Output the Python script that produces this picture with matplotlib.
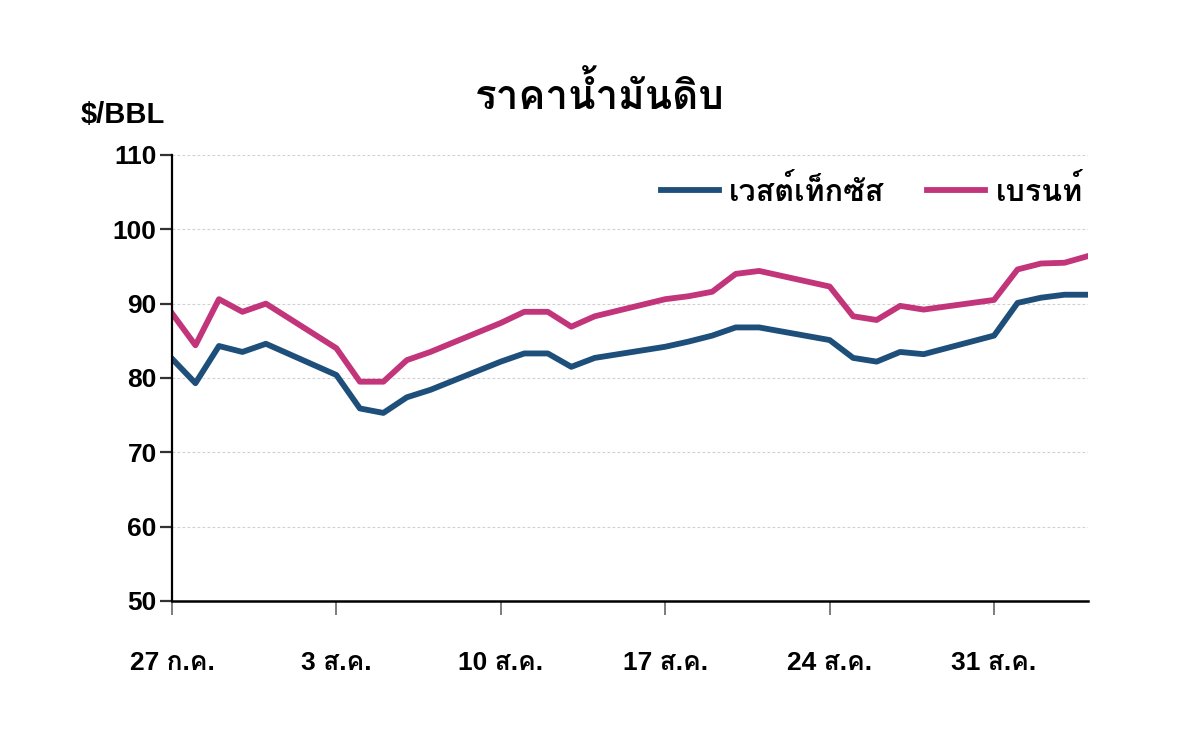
import matplotlib
matplotlib.use("Agg")
import matplotlib.pyplot as plt
from matplotlib import font_manager
from fontTools.ttLib import TTFont

# days counted from 27 Jul (weekdays only, weekends joined by straight lines)
days = [0, 1, 2, 3, 4,
        7, 8, 9, 10, 11,
        14, 15, 16, 17, 18,
        21, 22, 23, 24, 25,
        28, 29, 30, 31, 32,
        35, 36, 37, 38, 39]
wti = [82.6, 79.3, 84.3, 83.5, 84.6,
       80.4, 75.9, 75.3, 77.4, 78.4,
       82.2, 83.3, 83.3, 81.5, 82.7,
       84.2, 84.9, 85.7, 86.8, 86.8,
       85.1, 82.7, 82.2, 83.5, 83.2,
       85.7, 90.1, 90.8, 91.2, 91.2]
brent = [88.7, 84.4, 90.6, 88.9, 90.0,
         84.0, 79.5, 79.5, 82.4, 83.5,
         87.4, 88.9, 88.9, 86.9, 88.3,
         90.6, 91.0, 91.6, 94.0, 94.4,
         92.3, 88.3, 87.8, 89.7, 89.2,
         90.5, 94.6, 95.4, 95.5, 96.4]
tick_days = [0, 7, 14, 21, 28, 35]
tick_labels = ["27 ก.ค.", "3 ส.ค.", "10 ส.ค.", "17 ส.ค.", "24 ส.ค.", "31 ส.ค."]
series_names = ["เวสต์เท็กซัส", "เบรนท์"]


def find_thai_font():
    for f in font_manager.fontManager.ttflist:
        try:
            font = TTFont(f.fname, fontNumber=0, lazy=True)
            cmap = font.getBestCmap()
        except Exception:
            continue
        if cmap and 0x0E23 in cmap and 0x0E19 in cmap:
            return f.name
    return "DejaVu Sans"


thai = find_thai_font()
names = {f.name for f in font_manager.fontManager.ttflist}
num_font = "Liberation Sans Narrow" if "Liberation Sans Narrow" in names else "Liberation Sans"
fam = [num_font, thai, "DejaVu Sans"]
plt.rcParams["font.family"] = fam

fig = plt.figure(figsize=(12, 7.45), dpi=100)
ax = fig.add_axes([0.1433, 0.1933, 0.7634, 0.5987])

ax.plot(days, wti, color="#1d4f7a", lw=4.2, label=series_names[0], solid_joinstyle="round")
ax.plot(days, brent, color="#c2357a", lw=4.2, label=series_names[1], solid_joinstyle="round")

ax.set_xlim(0, 39)
ax.set_ylim(50, 110)
ax.set_yticks(range(50, 111, 10))
ax.set_xticks(tick_days)
ax.set_xticklabels(tick_labels)
ax.yaxis.grid(True, ls=(0, (2.5, 2)), color="#d0d0d0", lw=0.8)
ax.set_axisbelow(True)

for s in ["top", "right"]:
    ax.spines[s].set_visible(False)
ax.spines["left"].set_linewidth(1.6)
ax.spines["bottom"].set_linewidth(1.8)
ax.tick_params(axis="y", length=9, width=1.6, color="#333333", pad=2, labelsize=19)
ax.tick_params(axis="x", length=10, width=1.2, color="#666666", pad=26, labelsize=19)
for lab in ax.get_xticklabels() + ax.get_yticklabels():
    lab.set_fontweight("bold")

leg = ax.legend(loc="upper right", bbox_to_anchor=(1.025, 1.015), ncol=2, frameon=False,
                fontsize=22, handlelength=1.9, handletextpad=0.35, columnspacing=1.4)
for t in leg.get_texts():
    t.set_fontweight("bold")

fig.text(0.5, 0.872, "ราคาน้ำมันดิบ", ha="center", va="center", fontsize=29, fontweight="bold")
fig.text(0.067, 0.846, "$/BBL", ha="left", va="center", fontsize=21, fontweight="bold")

fig.savefig("out.png", dpi=100, facecolor="white")
